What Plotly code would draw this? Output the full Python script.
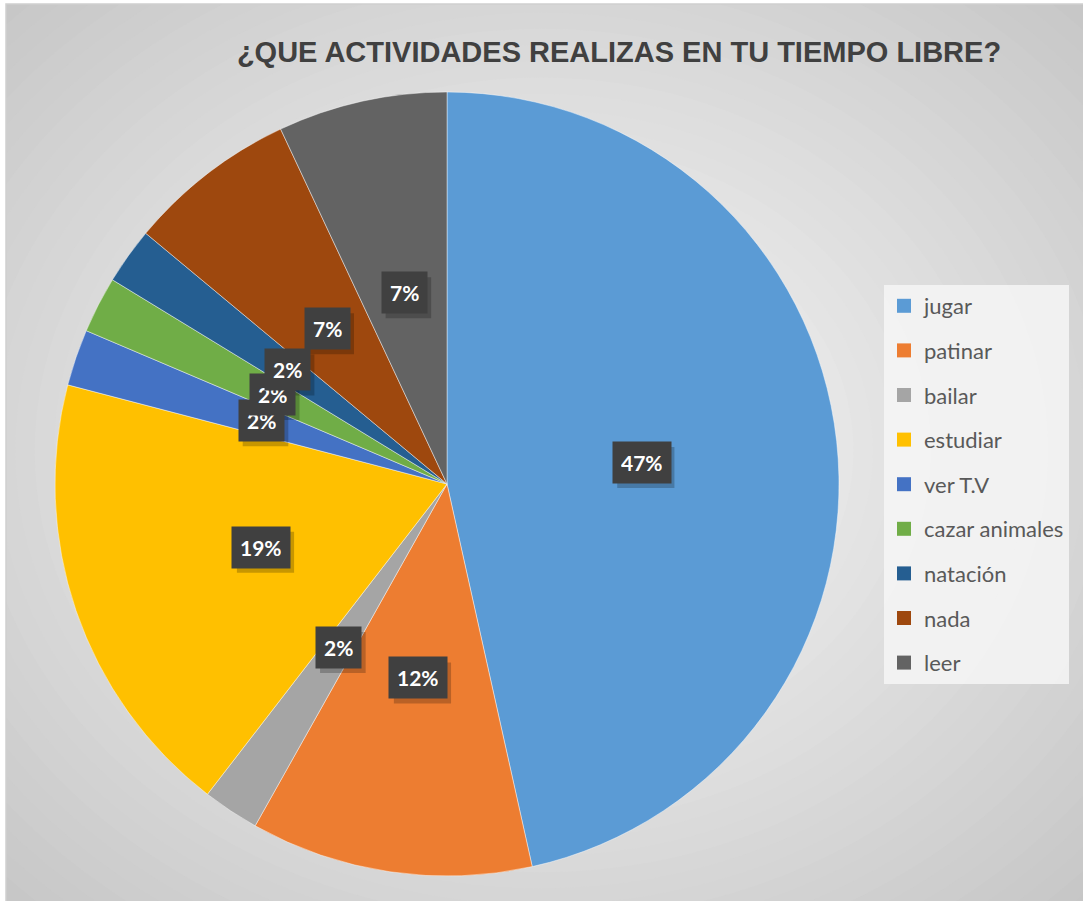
import math
import plotly.graph_objects as go

# ---- data ----
categories = ["jugar", "patinar", "bailar", "estudiar", "ver T.V",
              "cazar animales", "natación", "nada", "leer"]
counts = [20, 5, 1, 8, 1, 1, 1, 3, 3]
colors = ["#5B9BD5", "#ED7D31", "#A5A5A5", "#FFC000", "#4472C4",
          "#70AD47", "#255E91", "#9E480E", "#636363"]
title_text = "¿QUE ACTIVIDADES REALIZAS EN TU TIEMPO LIBRE?"

W, H = 1083, 901
cx_px, cy_px, R = 447, 484, 392

fig = go.Figure()

fig.add_trace(go.Pie(
    labels=categories, values=counts, sort=False, direction="clockwise",
    rotation=0, textinfo="none", hoverinfo="label+percent",
    marker=dict(colors=colors, line=dict(color="rgba(255,255,255,0.55)", width=0.8)),
    domain=dict(x=[(cx_px - R) / W, (cx_px + R) / W],
                y=[(H - cy_px - R) / H, (H - cy_px + R) / H]),
    showlegend=False,
))

# legend helper traces (one group per category for spacing)
for cat, col in zip(categories, colors):
    fig.add_trace(go.Scatter(
        x=[0], y=[0], mode="markers", name=cat, legendgroup=cat,
        marker=dict(symbol="square", size=14, color=col),
        hoverinfo="skip", xaxis="x", yaxis="y",
    ))

# background radial gradient inside chart frame
fx0, fy1 = 6 / W, 1 - 4 / H
shapes = [dict(type="rect", xref="paper", yref="paper", x0=0, y0=0, x1=1, y1=1,
               fillcolor="#c6c6c6", line=dict(width=0), layer="below")]
N = 40
for k in range(N, 0, -1):
    t = k / N
    a = 0.72 * t
    g = int(round(251 - (251 - 198) * t))
    shapes.append(dict(type="circle", xref="paper", yref="paper",
                       x0=0.5 - a, x1=0.5 + a, y0=0.5 - a, y1=0.5 + a,
                       fillcolor=f"rgb({g},{g},{g})", line=dict(width=0), layer="below"))
shapes.append(dict(type="rect", xref="paper", yref="paper", x0=0, x1=fx0, y0=0, y1=1,
                   fillcolor="white", line=dict(width=0), layer="below"))
shapes.append(dict(type="rect", xref="paper", yref="paper", x0=0, x1=1, y0=fy1, y1=1,
                   fillcolor="white", line=dict(width=0), layer="below"))
shapes.append(dict(type="rect", xref="paper", yref="paper",
                   x0=fx0, y0=-0.01, x1=1.01, y1=fy1,
                   fillcolor="rgba(0,0,0,0)", line=dict(color="#d0d0d0", width=1.5),
                   layer="below"))

# data labels at half radius of each slice
total = sum(counts)
annotations = []
cum = 0
for v in counts:
    mid = (cum + v / 2) / total * 2 * math.pi
    cum += v
    px = cx_px + 0.5 * R * math.sin(mid)
    py = cy_px - 0.5 * R * math.cos(mid)
    pct = f"{round(100 * v / total)}%"
    # soft shadow box behind the label
    bw = 16 + 11.6 * (len(pct) - 1) + 18
    bh = 41
    sx, sy = 4, 5
    shapes.append(dict(type="rect", xref="paper", yref="paper", layer="above",
                       x0=(px - bw / 2 + sx) / W, x1=(px + bw / 2 + sx) / W,
                       y0=1 - (py + bh / 2 + sy) / H, y1=1 - (py - bh / 2 + sy) / H,
                       fillcolor="rgba(0,0,0,0.22)", line=dict(width=0)))
    annotations.append(dict(xref="paper", yref="paper", x=px / W, y=1 - py / H,
                            xanchor="center", yanchor="middle", showarrow=False,
                            text=f"<b>{pct}</b>", borderpad=8, height=25,
                            bgcolor="#404040",
                            font=dict(family="Lato", size=21, color="white")))

fig.update_layout(
    width=W, height=H,
    margin=dict(l=0, r=0, t=0, b=0),
    paper_bgcolor="white", plot_bgcolor="rgba(0,0,0,0)",
    title=dict(text=f"<b>{title_text}</b>", x=619 / W, xanchor="center",
               y=1 - 52 / H, yanchor="middle",
               font=dict(family="Liberation Sans", size=29, color="#404040")),
    xaxis=dict(visible=False, range=[1, 2], domain=[0, 0.01]),
    yaxis=dict(visible=False, range=[1, 2], domain=[0, 0.01]),
    legend=dict(x=884 / W, y=1 - 285 / H, xanchor="left", yanchor="top",
                bgcolor="rgba(246,246,246,0.85)", borderwidth=0,
                font=dict(family="Lato", size=22, color="#595959"),
                tracegroupgap=13, traceorder="grouped", itemwidth=30),
    shapes=shapes, annotations=annotations,
)

fig.write_html("out.html", config={"displayModeBar": False},
               post_script="document.body.style.margin='0';document.body.style.overflow='hidden';")
